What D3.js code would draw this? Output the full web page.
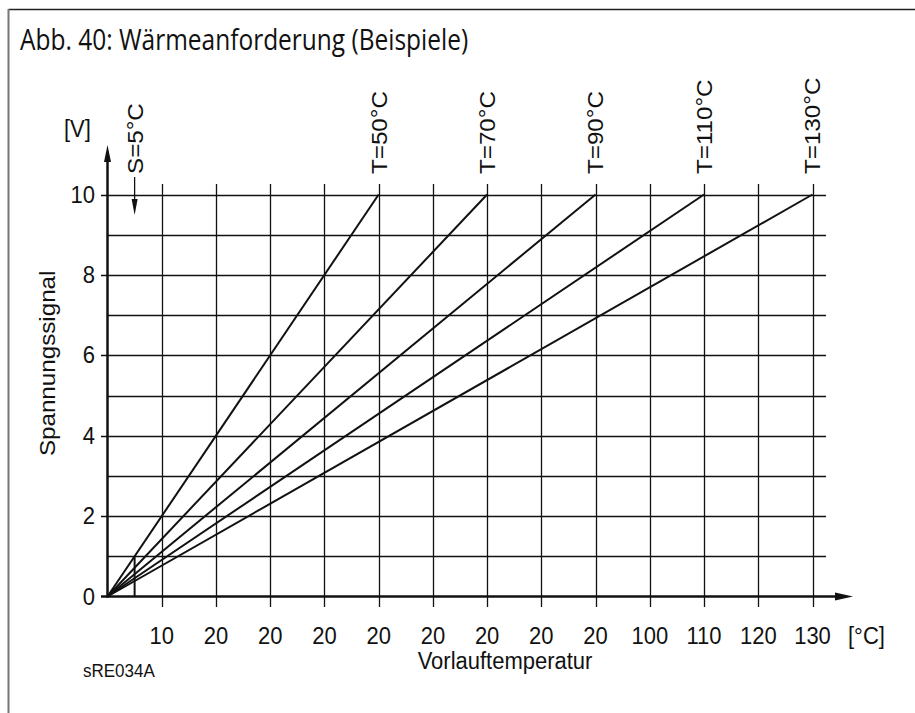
<!DOCTYPE html>
<html>
<head>
<meta charset="utf-8">
<script src="https://cdn.jsdelivr.net/npm/d3@7"></script>
<style>
  html, body { margin: 0; padding: 0; background: #fff; }
  svg { display: block; }
  text { fill: #111; }
</style>
</head>
<body>
<svg id="chart" width="915" height="713"></svg>
<script>
// Flow temperature grid (°C) and the printed tick labels under each grid line
const tempGrid = [10, 20, 30, 40, 50, 60, 70, 80, 90, 100, 110, 120, 130];
const tempTickLabels = ["10", "20", "20", "20", "20", "20", "20", "20", "20", "100", "110", "120", "130"];

// Voltage grid (V) and the labelled voltage ticks
const voltGrid = [1, 2, 3, 4, 5, 6, 7, 8, 9, 10];
const voltTickLabels = [0, 2, 4, 6, 8, 10];

// Heat demand characteristic lines: set point T reached at the maximum signal
const setPoints = [50, 70, 90, 110, 130];
const maxSignal = 10;

// Start point S of the characteristic and its signal level
const startTemp = 5;
const startSignal = 1;

const svg = d3.select("#chart");
const ink = "#111";
const labelFont = "'Liberation Sans', Arial, sans-serif";
const stretch = 1.1; // lettering is drawn slightly taller than it is wide

const x = d3.scaleLinear().domain([0, 130]).range([107.5, 812.5]);
const y = d3.scaleLinear().domain([0, 10]).range([596.5, 194.5]);

// Frame
svg.append("line").attr("x1", 8.5).attr("x2", 915).attr("y1", 9.5).attr("y2", 9.5)
  .attr("stroke", "#222").attr("stroke-width", 1.5);
svg.append("line").attr("x1", 8.5).attr("x2", 8.5).attr("y1", 9).attr("y2", 713)
  .attr("stroke", "#777").attr("stroke-width", 2);

// Horizontal text helper with the taller lettering
function hText(g, px, py, str, size, anchor) {
  return g.append("text")
    .attr("transform", `translate(${px},${py}) scale(1,${stretch})`)
    .attr("text-anchor", anchor || "start")
    .attr("font-family", labelFont).attr("font-size", size)
    .text(str);
}

// Title
const title = svg.append("text")
  .attr("transform", `translate(20,50) scale(1,1.22)`)
  .attr("font-family", "'Open Sans', 'Noto Sans', sans-serif")
  .attr("font-size", 22)
  .text("Abb. 40: Wärmeanforderung (Beispiele)");
{
  const w = title.node().getComputedTextLength();
  title.attr("font-size", 22 * 448 / w);
}

// Horizontal grid lines (even values carry a tick to the left)
svg.append("g").selectAll("line").data(voltGrid).join("line")
  .attr("x1", d => d % 2 === 0 ? 101 : x(0))
  .attr("x2", 826)
  .attr("y1", d => Math.round(y(d)) + 0.5)
  .attr("y2", d => Math.round(y(d)) + 0.5)
  .attr("stroke", ink).attr("stroke-width", 1.3);

// Vertical grid lines
svg.append("g").selectAll("line").data(tempGrid).join("line")
  .attr("x1", d => Math.round(x(d)) + 0.5)
  .attr("x2", d => Math.round(x(d)) + 0.5)
  .attr("y1", 184)
  .attr("y2", 607)
  .attr("stroke", ink).attr("stroke-width", 1.3);

// Axes with arrow heads
svg.append("line").attr("x1", x(0)).attr("x2", x(0)).attr("y1", y(0) + 1).attr("y2", 160)
  .attr("stroke", ink).attr("stroke-width", 2.5);
svg.append("path")
  .attr("d", `M${x(0)},145 L${x(0) - 3.5},162 L${x(0) + 3.5},162 Z`)
  .attr("fill", ink);
svg.append("line").attr("x1", 101).attr("x2", 838).attr("y1", y(0)).attr("y2", y(0))
  .attr("stroke", ink).attr("stroke-width", 2.5);
svg.append("path")
  .attr("d", `M853,${y(0)} L835,${y(0) - 4} L835,${y(0) + 4} Z`)
  .attr("fill", ink);

// Characteristic lines
svg.append("g").selectAll("line").data(setPoints).join("line")
  .attr("x1", x(0)).attr("y1", y(0))
  .attr("x2", d => x(d)).attr("y2", y(maxSignal))
  .attr("stroke", ink).attr("stroke-width", 2);

// Start point marker
svg.append("line")
  .attr("x1", x(startTemp)).attr("x2", x(startTemp))
  .attr("y1", y(0)).attr("y2", y(startSignal))
  .attr("stroke", ink).attr("stroke-width", 2);
svg.append("line")
  .attr("x1", x(startTemp)).attr("x2", x(startTemp))
  .attr("y1", 177).attr("y2", 202)
  .attr("stroke", ink).attr("stroke-width", 1.3);
svg.append("path")
  .attr("d", `M${x(startTemp)},215 L${x(startTemp) - 3},199 L${x(startTemp) + 3},199 Z`)
  .attr("fill", ink);

// Rotated labels above the grid
const topLabels = [{ t: startTemp, s: `S=${startTemp}°C` }]
  .concat(setPoints.map(d => ({ t: d, s: `T=${d}°C` })));
svg.append("g").selectAll("text").data(topLabels).join("text")
  .attr("transform", d => `translate(${x(d.t)},174) rotate(-90) scale(${stretch},1)`)
  .attr("dy", "0.36em")
  .attr("font-family", labelFont).attr("font-size", 22)
  .text(d => d.s);

// Voltage tick labels
const yLab = svg.append("g");
voltTickLabels.forEach(d => hText(yLab, 95, y(d) + 8, d, 22, "end"));

// Temperature tick labels
const xLab = svg.append("g");
tempGrid.forEach((d, i) => hText(xLab, x(d), 644, tempTickLabels[i], 22, "middle"));

// Units and axis titles
hText(svg, 848, 644, "[°C]", 22);
hText(svg, 64, 137, "[V]", 22);
svg.append("text")
  .attr("transform", `translate(55,${y(5.8)}) rotate(-90) scale(${stretch},1)`)
  .attr("text-anchor", "middle")
  .attr("font-family", labelFont).attr("font-size", 22)
  .text("Spannungssignal");
hText(svg, 505, 669, "Vorlauftemperatur", 22, "middle");
hText(svg, 83, 677, "sRE034A", 17);
</script>
</body>
</html>
